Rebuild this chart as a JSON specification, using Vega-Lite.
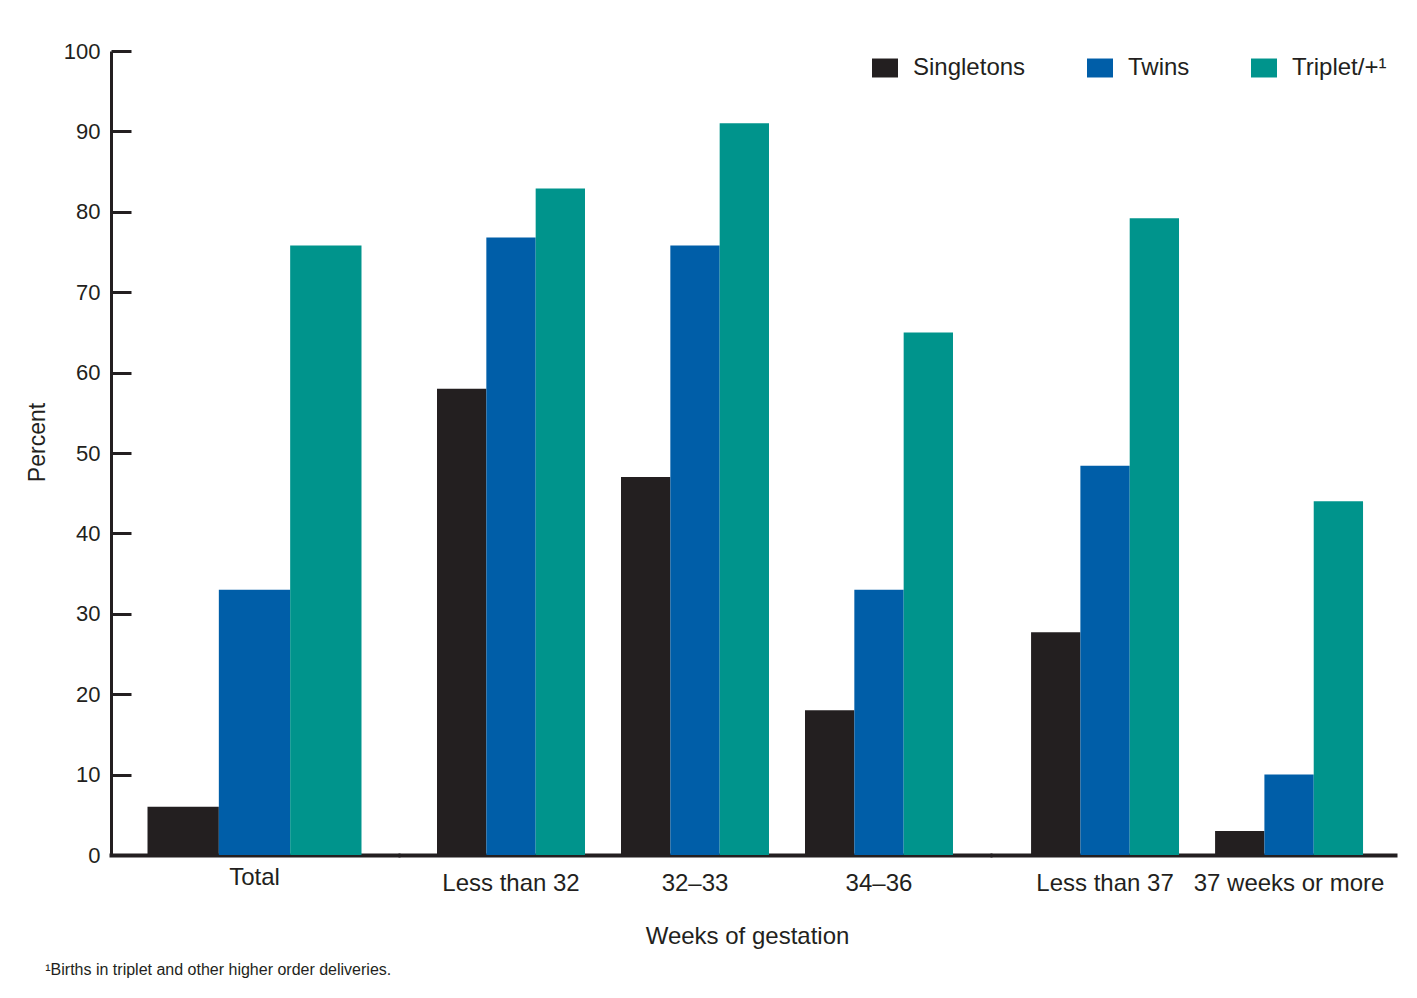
{
  "$schema": "https://vega.github.io/schema/vega-lite/v6.json",
  "background": "white",
  "padding": {"left": 26, "top": 40, "right": 5, "bottom": 5},
  "data": {
    "values": [
      {"group": "Total", "type": "Singletons", "percent": 6},
      {"group": "Total", "type": "Twins", "percent": 33},
      {"group": "Total", "type": "Triplet/+¹", "percent": 75.8},
      {"group": "Less than 32", "type": "Singletons", "percent": 58},
      {"group": "Less than 32", "type": "Twins", "percent": 76.8},
      {"group": "Less than 32", "type": "Triplet/+¹", "percent": 82.9},
      {"group": "32–33", "type": "Singletons", "percent": 47},
      {"group": "32–33", "type": "Twins", "percent": 75.8},
      {"group": "32–33", "type": "Triplet/+¹", "percent": 91},
      {"group": "34–36", "type": "Singletons", "percent": 18},
      {"group": "34–36", "type": "Twins", "percent": 33},
      {"group": "34–36", "type": "Triplet/+¹", "percent": 65},
      {"group": "Less than 37", "type": "Singletons", "percent": 27.7},
      {"group": "Less than 37", "type": "Twins", "percent": 48.4},
      {"group": "Less than 37", "type": "Triplet/+¹", "percent": 79.2},
      {"group": "37 weeks or more", "type": "Singletons", "percent": 3},
      {"group": "37 weeks or more", "type": "Twins", "percent": 10},
      {"group": "37 weeks or more", "type": "Triplet/+¹", "percent": 44}
    ]
  },
  "title": {
    "text": "¹Births in triplet and other higher order deliveries.",
    "orient": "bottom",
    "anchor": "start",
    "frame": "bounds",
    "fontSize": 16,
    "fontWeight": "normal",
    "font": "Liberation Sans",
    "color": "#231f20",
    "offset": 14,
    "dx": 19
  },
  "spacing": 0,
  "resolve": {"scale": {"x": "independent", "xOffset": "independent", "y": "shared", "color": "shared"}},
  "hconcat": [
    {
      "width": 287,
      "height": 804,
      "transform": [{"filter": {"field": "group", "oneOf": ["Total"]}}],
      "mark": {"type": "bar"},
      "encoding": {
        "x": {
          "field": "group", "type": "nominal", "sort": ["Total"],
          "scale": {"paddingInner": 0, "paddingOuter": 0.1706},
          "axis": {"title": null, "labelAngle": 0, "ticks": false, "labelPadding": 10, "domainCap": "square"}
        },
        "xOffset": {
          "field": "type", "type": "nominal",
          "sort": ["Singletons", "Twins", "Triplet/+¹"],
          "scale": {"paddingInner": 0, "paddingOuter": 0}
        },
        "y": {
          "field": "percent", "type": "quantitative",
          "scale": {"domain": [0, 100], "nice": false, "zero": true},
          "axis": {
            "title": "Percent",
            "values": [0, 10, 20, 30, 40, 50, 60, 70, 80, 90, 100],
            "grid": false,
            "tickSize": -20,
            "tickWidth": 3,
            "tickColor": "#231f20",
            "domainWidth": 3,
            "domainColor": "#231f20",
            "labelPadding": 31,
            "labelFontSize": 22,
            "titleFontSize": 23,
            "titlePadding": 14,
            "titleY": 391
          }
        },
        "color": {
          "field": "type", "type": "nominal",
          "sort": ["Singletons", "Twins", "Triplet/+¹"],
          "scale": {
            "domain": ["Singletons", "Twins", "Triplet/+¹"],
            "range": ["#231f20", "#005ea8", "#00948c"]
          },
          "legend": {
            "orient": "none",
            "legendX": 761,
            "legendY": 4,
            "direction": "horizontal",
            "title": null
          }
        }
      }
    },
    {
      "width": 594,
      "height": 804,
      "transform": [{"filter": {"field": "group", "oneOf": ["Less than 32", "32–33", "34–36"]}}],
      "mark": {"type": "bar"},
      "encoding": {
        "x": {
          "field": "group", "type": "nominal", "sort": ["Less than 32", "32–33", "34–36"],
          "scale": {"paddingInner": 0.1957, "paddingOuter": 0.212},
          "axis": {
            "title": "Weeks of gestation",
            "labelAngle": 0, "ticks": false, "labelPadding": 16,
            "titlePadding": 29,
            "titleX": 349,
            "domainCap": "butt"
          }
        },
        "xOffset": {
          "field": "type", "type": "nominal",
          "sort": ["Singletons", "Twins", "Triplet/+¹"],
          "scale": {"paddingInner": 0, "paddingOuter": 0}
        },
        "y": {
          "field": "percent", "type": "quantitative",
          "scale": {"domain": [0, 100], "nice": false, "zero": true},
          "axis": null
        },
        "color": {
          "field": "type", "type": "nominal",
          "sort": ["Singletons", "Twins", "Triplet/+¹"],
          "scale": {
            "domain": ["Singletons", "Twins", "Triplet/+¹"],
            "range": ["#231f20", "#005ea8", "#00948c"]
          }
        }
      }
    },
    {
      "width": 403,
      "height": 804,
      "transform": [{"filter": {"field": "group", "oneOf": ["Less than 37", "37 weeks or more"]}}],
      "mark": {"type": "bar"},
      "encoding": {
        "x": {
          "field": "group", "type": "nominal", "sort": ["Less than 37", "37 weeks or more"],
          "scale": {"paddingInner": 0.196, "paddingOuter": 0.193, "align": 0.55},
          "axis": {"title": null, "labelAngle": 0, "ticks": false, "labelPadding": 16, "domainCap": "square"}
        },
        "xOffset": {
          "field": "type", "type": "nominal",
          "sort": ["Singletons", "Twins", "Triplet/+¹"],
          "scale": {"paddingInner": 0, "paddingOuter": 0}
        },
        "y": {
          "field": "percent", "type": "quantitative",
          "scale": {"domain": [0, 100], "nice": false, "zero": true},
          "axis": null
        },
        "color": {
          "field": "type", "type": "nominal",
          "sort": ["Singletons", "Twins", "Triplet/+¹"],
          "scale": {
            "domain": ["Singletons", "Twins", "Triplet/+¹"],
            "range": ["#231f20", "#005ea8", "#00948c"]
          }
        }
      }
    }
  ],
  "config": {
    "font": "Liberation Sans",
    "view": {"stroke": null},
    "axis": {
      "labelFont": "Liberation Sans",
      "titleFont": "Liberation Sans",
      "labelColor": "#231f20",
      "titleColor": "#231f20",
      "titleFontWeight": "normal",
      "labelFontSize": 24,
      "titleFontSize": 24,
      "labelLimit": 400,
      "grid": false
    },
    "axisX": {
      "domainWidth": 4,
      "domainColor": "#231f20",
      "labelFontSize": 24
    },
    "legend": {
      "symbolType": "M-1,-0.73H1V0.73H-1Z",
      "symbolSize": 676,
      "symbolStrokeWidth": 0,
      "symbolOpacity": 1,
      "labelFont": "Liberation Sans",
      "labelFontSize": 24,
      "labelColor": "#231f20",
      "labelOffset": 15,
      "columnPadding": 61,
      "labelLimit": 300
    }
  }
}
